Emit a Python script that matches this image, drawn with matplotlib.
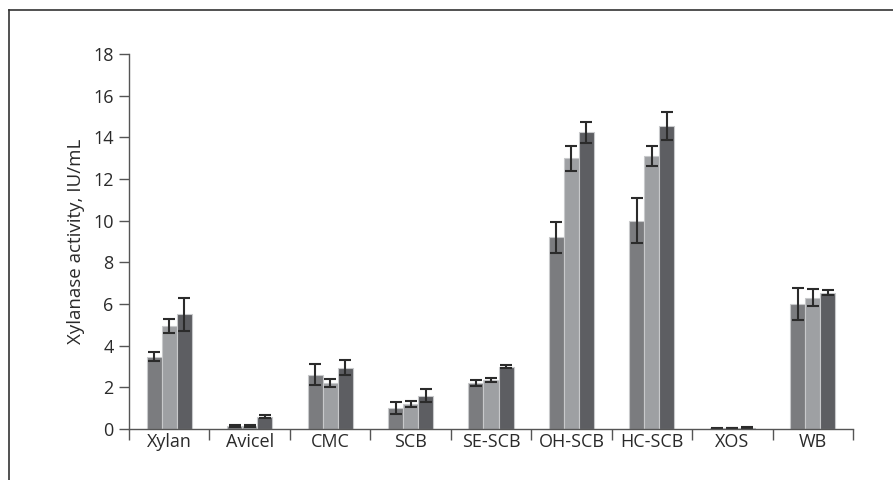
import matplotlib
matplotlib.use("Agg")
import matplotlib.pyplot as plt
import numpy as np
from matplotlib.lines import Line2D

categories = ["Xylan", "Avicel", "CMC", "SCB", "SE-SCB", "OH-SCB", "HC-SCB", "XOS", "WB"]
s1 = [3.48, 0.15, 2.6, 1.0, 2.2, 9.2, 10.0, 0.03, 6.0]
s2 = [4.95, 0.15, 2.2, 1.2, 2.35, 13.0, 13.1, 0.05, 6.3]
s3 = [5.5, 0.6, 2.95, 1.6, 3.0, 14.25, 14.55, 0.06, 6.55]
e1 = [0.22, 0.03, 0.5, 0.3, 0.15, 0.75, 1.07, 0.02, 0.75]
e2 = [0.32, 0.03, 0.2, 0.15, 0.1, 0.6, 0.47, 0.02, 0.4]
e3 = [0.8, 0.06, 0.35, 0.3, 0.05, 0.5, 0.68, 0.02, 0.1]
yticks = [0, 2, 4, 6, 8, 10, 12, 14, 16, 18]

plt.rcParams['font.family'] = ['Open Sans', 'DejaVu Sans']

fig = plt.figure(figsize=(8.93, 4.8), dpi=100)
ax = fig.add_axes([129/893, 51/480, 724/893, 375/480])

x = np.arange(len(categories)) + 0.5
w = 0.187
colors = ["#7b7c7f", "#9ea0a3", "#5d5e62"]
edge = "#c8c9cb"
for off, vals, errs, c in zip([-w, 0, w], [s1, s2, s3], [e1, e2, e3], colors):
    ax.bar(x + off, vals, width=w, color=c, edgecolor=edge, linewidth=0.8,
           yerr=errs, error_kw=dict(ecolor="#2b2b2b", elinewidth=1.5, capsize=4.5, capthick=1.5))

ax.set_xlim(0, len(categories))
ax.set_ylim(0, 18)
ax.set_yticks(yticks)
ax.set_xticks(x)
ax.set_xticklabels(categories, fontsize=13, color="#2a2a2a")
ax.tick_params(axis='x', which='major', length=0, pad=3)
ax.set_xticks(np.arange(len(categories) + 1), minor=True)
ax.tick_params(axis='x', which='minor', length=8, width=1, color="#555555", direction='out')
ax.tick_params(axis='y', length=7, width=1, color="#555555", labelsize=13, labelcolor="#2a2a2a", pad=4)
for s in ["top", "right"]:
    ax.spines[s].set_visible(False)
for s in ["left", "bottom"]:
    ax.spines[s].set_color("#555555")
    ax.spines[s].set_linewidth(1)
ax.set_ylabel("Xylanase activity, IU/mL", fontsize=13.5, color="#2a2a2a", labelpad=6)

# outer frame (top and left)
fig.add_artist(Line2D([9/893, 1], [1 - 10/480, 1 - 10/480], color="#333333", lw=1.2, transform=fig.transFigure))
fig.add_artist(Line2D([9/893, 9/893], [0, 1 - 10/480], color="#333333", lw=1.2, transform=fig.transFigure))

fig.savefig("out.png", dpi=100)
